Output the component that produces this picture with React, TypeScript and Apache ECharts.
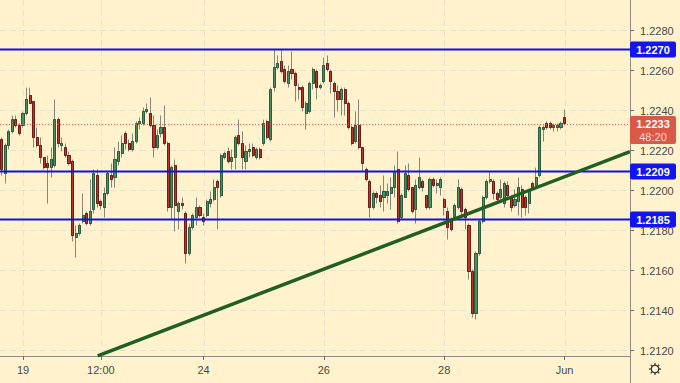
import React, { useEffect, useRef } from 'react';
import * as echarts from 'echarts';

const CATEGORY_COUNT = 178;
const dateLabels = ['19', '12:00', '24', '26', '28', 'Jun'];
const dateLabelIndex = [6, 28, 57, 91, 125, 159];
const priceTicks = [1.212, 1.214, 1.216, 1.218, 1.22, 1.222, 1.224, 1.226, 1.228];
const levels = [1.227, 1.2209, 1.2185];
const lastPrice = 1.2233;
const countdown = '48:20';
const trendLine: [number, number][] = [[27.6, 1.21168], [178, 1.22189]];
const yMin = 1.211675;
const yMax = 1.229475;

// [open, close, low, high]
const ohlc: number[][] = [
  [1.2225, 1.2210, 1.2207, 1.2226], [1.2208, 1.2222, 1.2203, 1.2223], [1.2222, 1.2229, 1.2220, 1.2230],
  [1.2229, 1.2235, 1.2228, 1.2237], [1.2235, 1.2232, 1.2231, 1.2237], [1.2232, 1.2228, 1.2227, 1.2233],
  [1.2232, 1.2238, 1.2231, 1.2239], [1.2238, 1.2245, 1.2237, 1.2251], [1.2247, 1.2243, 1.2243, 1.2251],
  [1.2244, 1.2226, 1.2221, 1.2244], [1.2226, 1.2222, 1.2221, 1.2231], [1.2222, 1.2216, 1.2213, 1.2226],
  [1.2216, 1.2211, 1.2210, 1.2216], [1.2213, 1.2211, 1.2193, 1.2217], [1.2211, 1.2215, 1.2206, 1.2221],
  [1.2212, 1.2235, 1.2211, 1.2245], [1.2235, 1.2223, 1.2221, 1.2236], [1.2222, 1.2223, 1.2219, 1.2226],
  [1.2221, 1.2217, 1.2216, 1.2223], [1.2217, 1.2213, 1.2212, 1.2219], [1.2214, 1.2177, 1.2174, 1.2215],
  [1.2176, 1.2178, 1.2166, 1.2182], [1.2178, 1.2182, 1.2177, 1.2183], [1.2184, 1.2187, 1.2183, 1.2198],
  [1.2188, 1.2183, 1.2182, 1.2189], [1.2183, 1.2189, 1.2182, 1.2205], [1.2190, 1.2208, 1.2188, 1.2210],
  [1.2207, 1.2193, 1.2191, 1.2210], [1.2194, 1.2192, 1.2190, 1.2195], [1.2191, 1.2198, 1.2186, 1.2201],
  [1.2198, 1.2208, 1.2197, 1.2209], [1.2207, 1.2205, 1.2201, 1.2213], [1.2206, 1.2215, 1.2201, 1.2221],
  [1.2214, 1.2219, 1.2212, 1.2224], [1.2218, 1.2223, 1.2216, 1.2227], [1.2228, 1.2223, 1.2220, 1.2229],
  [1.2223, 1.2220, 1.2219, 1.2225], [1.2220, 1.2224, 1.2219, 1.2228], [1.2224, 1.2233, 1.2223, 1.2234],
  [1.2233, 1.2234, 1.2230, 1.2236], [1.2233, 1.2239, 1.2232, 1.2241], [1.2239, 1.2240, 1.2238, 1.2243],
  [1.2238, 1.2232, 1.2231, 1.2246], [1.2232, 1.2221, 1.2216, 1.2237], [1.2221, 1.2227, 1.2220, 1.2230],
  [1.2228, 1.2231, 1.2226, 1.2237], [1.2231, 1.2223, 1.2222, 1.2242], [1.2223, 1.2191, 1.2189, 1.2224],
  [1.2191, 1.2211, 1.2185, 1.2212], [1.2212, 1.2192, 1.2179, 1.2215], [1.2189, 1.2193, 1.2180, 1.2194],
  [1.2193, 1.2192, 1.2190, 1.2196], [1.2188, 1.2168, 1.2163, 1.2189], [1.2168, 1.2181, 1.2167, 1.2183],
  [1.2181, 1.2187, 1.2180, 1.2188], [1.2186, 1.2191, 1.2182, 1.2196], [1.2191, 1.2187, 1.2186, 1.2192],
  [1.2186, 1.2184, 1.2182, 1.2188], [1.2187, 1.2194, 1.2186, 1.2195], [1.2193, 1.2195, 1.2191, 1.2199],
  [1.2195, 1.2201, 1.2194, 1.2205], [1.2204, 1.2201, 1.2180, 1.2205], [1.2197, 1.2217, 1.2196, 1.2218],
  [1.2216, 1.2218, 1.2215, 1.2219], [1.2219, 1.2214, 1.2213, 1.2221], [1.2214, 1.2216, 1.2210, 1.2220],
  [1.2216, 1.2226, 1.2210, 1.2227], [1.2227, 1.2223, 1.2222, 1.2235], [1.2223, 1.2216, 1.2210, 1.2229],
  [1.2214, 1.2219, 1.2210, 1.2222], [1.2219, 1.2220, 1.2216, 1.2223], [1.2221, 1.2217, 1.2216, 1.2223],
  [1.2216, 1.2220, 1.2215, 1.2221], [1.2220, 1.2216, 1.2215, 1.2221], [1.2223, 1.2233, 1.2222, 1.2235],
  [1.2234, 1.2226, 1.2225, 1.2235], [1.2225, 1.2250, 1.2224, 1.2251], [1.2251, 1.2261, 1.2249, 1.2270],
  [1.2261, 1.2263, 1.2260, 1.2267], [1.2264, 1.2259, 1.2258, 1.2270], [1.2260, 1.2254, 1.2253, 1.2262],
  [1.2253, 1.2259, 1.2251, 1.2262], [1.2260, 1.2258, 1.2255, 1.2269], [1.2258, 1.2252, 1.2244, 1.2259],
  [1.2251, 1.2250, 1.2245, 1.2253], [1.2251, 1.2241, 1.2239, 1.2252], [1.2238, 1.2243, 1.2230, 1.2244],
  [1.2239, 1.2253, 1.2238, 1.2254], [1.2253, 1.2260, 1.2250, 1.2261], [1.2259, 1.2251, 1.2245, 1.2260],
  [1.2251, 1.2252, 1.2250, 1.2253], [1.2254, 1.2262, 1.2253, 1.2266], [1.2263, 1.2260, 1.2259, 1.2267],
  [1.2259, 1.2254, 1.2248, 1.2260], [1.2253, 1.2249, 1.2236, 1.2254], [1.2249, 1.2245, 1.2239, 1.2252],
  [1.2245, 1.2250, 1.2237, 1.2251], [1.2250, 1.2243, 1.2237, 1.2251], [1.2243, 1.2231, 1.2230, 1.2244],
  [1.2231, 1.2223, 1.2222, 1.2232], [1.2224, 1.2232, 1.2223, 1.2239], [1.2232, 1.2221, 1.2220, 1.2245],
  [1.2221, 1.2213, 1.2209, 1.2221], [1.2210, 1.2205, 1.2204, 1.2211], [1.2204, 1.2191, 1.2186, 1.2205],
  [1.2191, 1.2198, 1.2190, 1.2199], [1.2198, 1.2196, 1.2193, 1.2199], [1.2197, 1.2194, 1.2191, 1.2202],
  [1.2196, 1.2199, 1.2189, 1.2207], [1.2197, 1.2199, 1.2193, 1.2203], [1.2198, 1.2201, 1.2190, 1.2206],
  [1.2201, 1.2209, 1.2196, 1.2212], [1.2210, 1.2184, 1.2183, 1.2219], [1.2186, 1.2197, 1.2185, 1.2198],
  [1.2196, 1.2208, 1.2196, 1.2212], [1.2207, 1.2200, 1.2199, 1.2213], [1.2201, 1.2189, 1.2188, 1.2201],
  [1.2190, 1.2202, 1.2183, 1.2205], [1.2201, 1.2206, 1.2200, 1.2216], [1.2204, 1.2201, 1.2199, 1.2205],
  [1.2197, 1.2191, 1.2190, 1.2197], [1.2191, 1.2205, 1.2190, 1.2206], [1.2205, 1.2202, 1.2201, 1.2206],
  [1.2202, 1.2203, 1.2198, 1.2205], [1.2201, 1.2205, 1.2197, 1.2206], [1.2195, 1.2191, 1.2187, 1.2196],
  [1.2189, 1.2181, 1.2175, 1.2191], [1.2185, 1.2180, 1.2179, 1.2186], [1.2186, 1.2192, 1.2185, 1.2193],
  [1.2191, 1.2201, 1.2190, 1.2205], [1.2200, 1.2189, 1.2187, 1.2201], [1.2190, 1.2186, 1.2180, 1.2191],
  [1.2182, 1.2159, 1.2155, 1.2183], [1.2159, 1.2138, 1.2136, 1.2160], [1.2138, 1.2168, 1.2135, 1.2169],
  [1.2168, 1.2184, 1.2167, 1.2185], [1.2184, 1.2196, 1.2183, 1.2197], [1.2196, 1.2204, 1.2195, 1.2205],
  [1.2204, 1.2205, 1.2203, 1.2209], [1.2204, 1.2198, 1.2195, 1.2205], [1.2198, 1.2195, 1.2193, 1.2199],
  [1.2196, 1.2200, 1.2194, 1.2205], [1.2193, 1.2203, 1.2191, 1.2204], [1.2202, 1.2197, 1.2196, 1.2204],
  [1.2196, 1.2191, 1.2189, 1.2197], [1.2192, 1.2195, 1.2191, 1.2200], [1.2194, 1.2201, 1.2187, 1.2206],
  [1.2200, 1.2191, 1.2186, 1.2202], [1.2196, 1.2191, 1.2187, 1.2197], [1.2193, 1.2199, 1.2188, 1.2200],
  [1.2203, 1.2201, 1.2200, 1.2204], [1.2202, 1.2206, 1.2201, 1.2211], [1.2207, 1.2231, 1.2206, 1.2232],
  [1.2230, 1.2231, 1.2224, 1.2232], [1.2233, 1.2231, 1.2230, 1.2234], [1.2233, 1.2231, 1.2230, 1.2234],
  [1.2231, 1.2232, 1.2229, 1.2233], [1.2231, 1.2232, 1.2229, 1.2233], [1.2231, 1.2233, 1.2230, 1.2234],
  [1.2236, 1.2233, 1.2232, 1.2240],
];

const W = 680;
const H = 383;
const GRID_RIGHT = 50;
const GRID_BOTTOM = 27;
const AXIS_X = W - GRID_RIGHT;
const AXIS_Y = H - GRID_BOTTOM;
const BG = '#fff2cc';
const FONT = '"Liberation Sans", Arial, sans-serif';

export default function App() {
  const ref = useRef<HTMLDivElement>(null);

  useEffect(() => {
    const el = ref.current;
    if (!el) return;
    const chart = echarts.init(el, null, { renderer: 'svg' });

    const categories = Array.from({ length: CATEGORY_COUNT }, (_, i) => `c${i}`);
    const labelOf = (idx: number) => {
      const k = dateLabelIndex.indexOf(idx);
      return k >= 0 ? dateLabels[k] : '';
    };
    const showIdx = (idx: number) => dateLabelIndex.indexOf(idx) >= 0;
    const bodies = ohlc.map(([o, c]) => [o, c, Math.min(o, c), Math.max(o, c)]);

    const option: any = {
      animation: false,
      backgroundColor: BG,
      grid: { left: 0, top: 0, right: GRID_RIGHT, bottom: GRID_BOTTOM, containLabel: false },
      xAxis: [
        {
          type: 'category',
          data: categories,
          boundaryGap: true,
          axisLine: { show: true, lineStyle: { color: '#8e8c84', width: 1 } },
          axisTick: { show: true, interval: showIdx, alignWithLabel: true, length: 4, lineStyle: { color: '#6e6e6e' } },
          axisLabel: {
            show: true,
            interval: showIdx,
            formatter: (_v: string, idx: number) => labelOf(idx),
            color: '#4a4a4a',
            fontSize: 11,
            fontFamily: FONT,
            margin: 8,
          },
          splitLine: { show: false },
        },
        { type: 'value', min: 0, max: CATEGORY_COUNT, show: false, gridIndex: 0 },
      ],
      yAxis: [
        {
          type: 'value',
          min: yMin,
          max: yMax,
          position: 'right',
          axisLine: { show: false },
          axisTick: { show: false },
          axisLabel: { show: false },
          splitLine: { show: false },
        },
      ],
      series: [
        {
          name: 'wicks',
          type: 'candlestick',
          xAxisIndex: 0,
          yAxisIndex: 0,
          data: ohlc,
          barWidth: 2.6,
          silent: true,
          z: 2,
          itemStyle: {
            color: 'rgba(0,0,0,0)',
            color0: 'rgba(0,0,0,0)',
            borderColor: '#86867c',
            borderColor0: '#86867c',
            borderWidth: 1,
          },
        },
        {
          name: 'bodies',
          type: 'candlestick',
          xAxisIndex: 0,
          yAxisIndex: 0,
          data: bodies,
          barWidth: 2.6,
          silent: true,
          z: 3,
          itemStyle: {
            color: '#4b8d65',
            color0: '#b8372b',
            borderColor: '#2c5c3c',
            borderColor0: '#6d1d15',
            borderWidth: 1,
          },
        },
        {
          name: 'trend',
          type: 'line',
          xAxisIndex: 1,
          yAxisIndex: 0,
          data: trendLine,
          symbol: 'none',
          silent: true,
          z: 5,
          lineStyle: { color: '#1f5f24', width: 3.5 },
        },
      ],
    };
    chart.setOption(option);

    const yPx = (v: number) => chart.convertToPixel({ yAxisIndex: 0 }, v) as number;
    const xPx = (i: number) => chart.convertToPixel({ xAxisIndex: 0 }, i) as number;

    const els: any[] = [];
    // grid lines
    priceTicks.forEach((v) => {
      const y = Math.round(yPx(v)) + 0.5;
      els.push({ type: 'line', silent: true, z: 0, shape: { x1: 0, y1: y, x2: AXIS_X, y2: y }, style: { stroke: '#e7e0cb', lineWidth: 1, lineDash: [6, 4] } });
    });
    dateLabelIndex.forEach((i) => {
      const x = Math.round(xPx(i)) + 0.5;
      els.push({ type: 'line', silent: true, z: 0, shape: { x1: x, y1: 0, x2: x, y2: AXIS_Y }, style: { stroke: '#e7e0cb', lineWidth: 1, lineDash: [6, 4] } });
    });
    // horizontal levels and last price line
    levels.forEach((v) => {
      const y = yPx(v);
      els.push({ type: 'line', silent: true, z: 4, shape: { x1: 0, y1: y, x2: AXIS_X, y2: y }, style: { stroke: '#0f0ff0', lineWidth: 2 } });
    });
    {
      const y = Math.round(yPx(lastPrice)) + 0.5;
      els.push({ type: 'line', silent: true, z: 4, shape: { x1: 0, y1: y, x2: AXIS_X, y2: y }, style: { stroke: '#e2584b', lineWidth: 1, lineDash: [1, 2] } });
    }
    // right axis line
    els.push({ type: 'line', silent: true, z: 6, shape: { x1: AXIS_X + 0.5, y1: 0, x2: AXIS_X + 0.5, y2: H }, style: { stroke: '#8e8c84', lineWidth: 1 } });
    // price tick marks & labels
    priceTicks.forEach((v) => {
      const y = Math.round(yPx(v)) + 0.5;
      els.push({ type: 'line', silent: true, z: 6, shape: { x1: AXIS_X, y1: y, x2: AXIS_X + 4, y2: y }, style: { stroke: '#6e6e6e', lineWidth: 1 } });
      els.push({
        type: 'text', silent: true, z: 6, x: AXIS_X + 10, y,
        style: { text: v.toFixed(4), fill: '#4a4a4a', font: `11px ${FONT}`, align: 'left', verticalAlign: 'middle', textAlign: 'left', textVerticalAlign: 'middle' },
      });
    });
    // level tags
    levels.forEach((v) => {
      const y = yPx(v);
      els.push({ type: 'rect', silent: true, z: 10, shape: { x: AXIS_X, y: y - 8, width: 46, height: 16, r: 2 }, style: { fill: '#1414ee' } });
      els.push({
        type: 'text', silent: true, z: 11, x: AXIS_X + 23, y,
        style: { text: v.toFixed(4), fill: '#ffffff', font: `bold 11px ${FONT}`, align: 'center', verticalAlign: 'middle', textAlign: 'center', textVerticalAlign: 'middle' },
      });
    });
    // last price tag
    {
      const y = yPx(lastPrice);
      els.push({ type: 'rect', silent: true, z: 10, shape: { x: AXIS_X, y: y - 7.5, width: 46, height: 28, r: 2 }, style: { fill: '#da5848' } });
      els.push({
        type: 'text', silent: true, z: 11, x: AXIS_X + 23, y: y + 0.5,
        style: { text: lastPrice.toFixed(4), fill: '#ffffff', font: `bold 11px ${FONT}`, align: 'center', verticalAlign: 'middle', textAlign: 'center', textVerticalAlign: 'middle' },
      });
      els.push({
        type: 'text', silent: true, z: 11, x: AXIS_X + 23, y: y + 13.5,
        style: { text: countdown, fill: '#f7d6cf', font: `11px ${FONT}`, align: 'center', verticalAlign: 'middle', textAlign: 'center', textVerticalAlign: 'middle' },
      });
    }
    // settings icon
    {
      const cx = AXIS_X + 25;
      const cy = AXIS_Y + 13;
      els.push({ type: 'circle', silent: true, z: 6, shape: { cx, cy, r: 3.8 }, style: { fill: 'none', stroke: '#333333', lineWidth: 1.2 } });
      for (let k = 0; k < 8; k++) {
        const a = (k * Math.PI) / 4;
        els.push({
          type: 'line', silent: true, z: 6,
          shape: { x1: cx + Math.cos(a) * 3.8, y1: cy + Math.sin(a) * 3.8, x2: cx + Math.cos(a) * 6, y2: cy + Math.sin(a) * 6 },
          style: { stroke: '#333333', lineWidth: 1.2 },
        });
      }
    }

    chart.setOption({ graphic: { elements: els } });

    return () => {
      chart.dispose();
    };
  }, []);

  return (
    <div
      ref={ref}
      style={{ position: 'fixed', left: 0, top: 0, width: W, height: H, background: BG }}
    />
  );
}
